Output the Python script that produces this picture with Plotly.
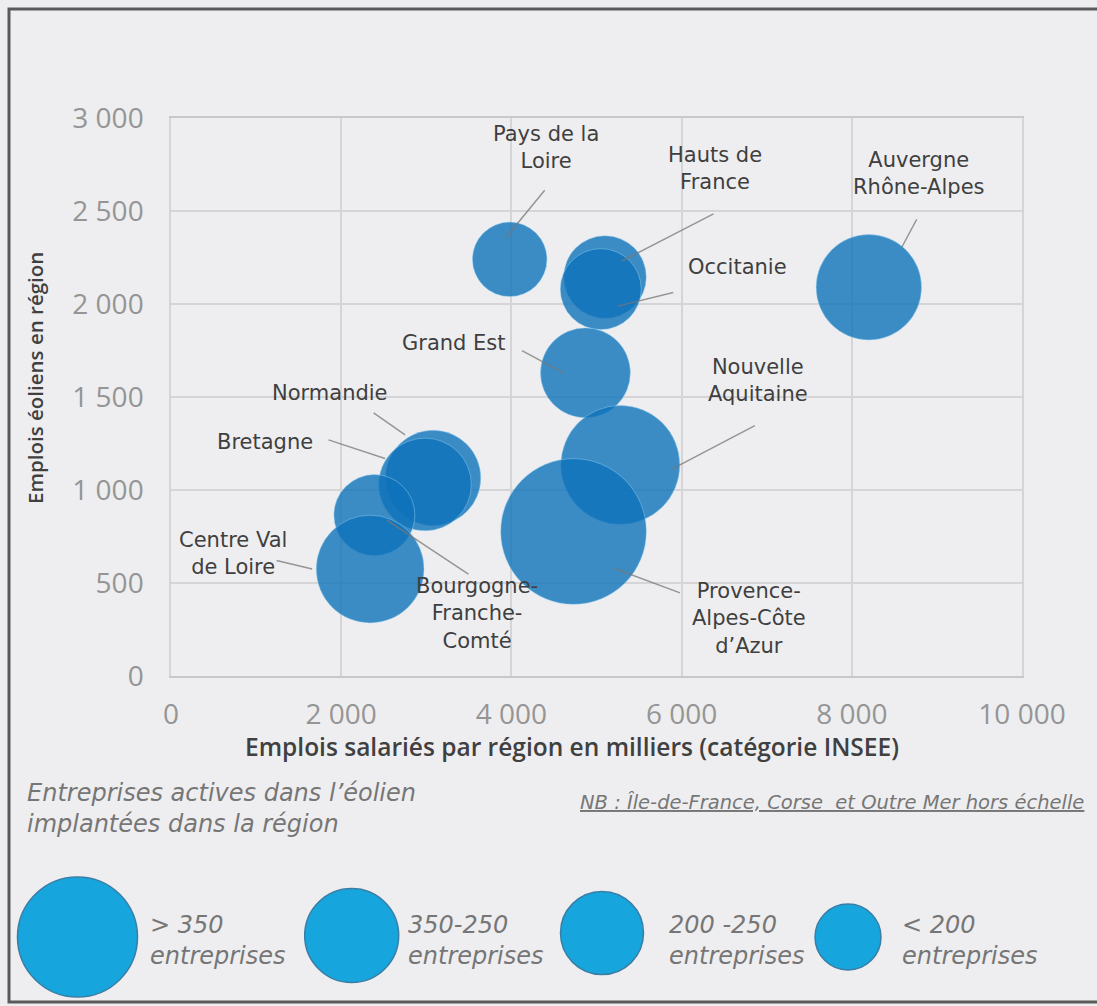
import plotly.graph_objects as go

# ---------------- data ----------------
regions = ["Pays de la Loire", "Hauts de France", "Occitanie", "Auvergne Rhône-Alpes",
           "Grand Est", "Nouvelle Aquitaine", "Provence-Alpes-Côte d'Azur", "Normandie",
           "Bretagne", "Bourgogne-Franche-Comté", "Centre Val de Loire"]
label_text = ["Pays de la<br>Loire", "Hauts de<br>France", "Occitanie", "Auvergne<br>Rhône-Alpes",
              "Grand Est", "Nouvelle<br>Aquitaine", "Provence-<br>Alpes-Côte<br>d’Azur", "Normandie",
              "Bretagne", "Bourgogne-<br>Franche-<br>Comté", "Centre Val<br>de Loire"]
emplois_salaries = [3980, 5100, 5050, 8200, 4870, 5280, 4730, 3080, 2985, 2390, 2340]
emplois_eoliens = [2240, 2145, 2080, 2090, 1630, 1135, 777, 1065, 1030, 865, 575]
entreprises = [110, 135, 130, 220, 160, 280, 420, 180, 170, 130, 230]

x_ticks = [0, 2000, 4000, 6000, 8000, 10000]
y_ticks = [0, 500, 1000, 1500, 2000, 2500, 3000]

legend_labels = ["&gt; 350<br>entreprises", "350-250<br>entreprises",
                 "200 -250<br>entreprises", "&lt; 200<br>entreprises"]

# ---------------- layout helpers ----------------
W, H = 1097, 1006
L, R, T, B = 171, 1022, 118, 676          # plot area in pixels
def px(x):
    return (x - L) / (R - L)
def py(y):
    return (B - y) / (B - T)

BG = "#eeeef0"
GRID = "#d5d5d7"
LABEL = "#3f3f3f"
TICK = "#959595"
ITAL = "#767676"
LBL_FONT = "DejaVu Sans"

# label layout: text offset, leader start, leader end (pixels from bubble centre)
label_layout = [
    ((36.5, -112), (36.5, -71), (-4.5, -21)),
    ((110, -109), (110, -64), (17, -16)),
    ((137, -22), (74, 3), (17, 17)),
    ((50, -114), (49, -70), (33, -40)),
    ((-131, -30), (-65, -23), (-22, 0)),
    ((138, -84), (136, -40), (52, 4)),
    ((175, 87), (108, 62), (41, 37)),
    ((-103, -85), (-61, -66), (-28, -43)),
    ((-160, -42), (-98, -45), (-40, -26)),
    ((102.5, 98), (95.5, 60), (12.5, 5)),
    ((-137, -16), (-95, -9), (-58, 0)),
]

max_diam = 145.6
sizeref = 2.0 * max(entreprises) / max_diam ** 2

fig = go.Figure()
fig.add_trace(go.Scatter(
    x=emplois_salaries, y=emplois_eoliens, mode="markers",
    text=regions, hoverinfo="text",
    marker=dict(size=entreprises, sizemode="area", sizeref=sizeref, opacity=1,
                color="rgba(14,114,186,0.80)",
                line=dict(color="rgba(150,210,240,0.45)", width=1)),
    showlegend=False,
))

annotations = []
for i, (txt, lay) in enumerate(zip(label_text, label_layout)):
    (tx, ty), (sx, sy), (ex, ey) = lay
    cx, cy = emplois_salaries[i], emplois_eoliens[i]
    # leader line
    annotations.append(dict(
        x=cx, y=cy, xref="x", yref="y", text=" ", font=dict(size=1),
        showarrow=True, arrowhead=0, arrowwidth=1.5, arrowcolor="rgba(120,120,120,0.75)",
        xshift=ex, yshift=-ey, ax=sx - ex, ay=sy - ey, axref="pixel", ayref="pixel",
        standoff=0, startstandoff=0,
    ))
    # label text
    annotations.append(dict(
        x=cx, y=cy, xref="x", yref="y", text=txt, showarrow=False,
        xshift=tx, yshift=-ty, xanchor="center", yanchor="middle", align="center",
        font=dict(family=LBL_FONT, size=21, color=LABEL),
    ))

# axis titles
annotations.append(dict(
    x=px(572), y=py(746), xref="paper", yref="paper", showarrow=False,
    text="Emplois salariés par région en milliers (catégorie INSEE)",
    xanchor="center", yanchor="middle",
    font=dict(family="Open Sans", size=24.5, color="#404040", weight=600),
))
annotations.append(dict(
    x=px(35), y=py(378), xref="paper", yref="paper", showarrow=False,
    text="Emplois éoliens en région", textangle=-90,
    xanchor="center", yanchor="middle",
    font=dict(family="Open Sans", size=20.5, color="#404040", weight=600),
))
# legend texts
annotations.append(dict(
    x=px(25), y=py(808), xref="paper", yref="paper", showarrow=False,
    text="<i>Entreprises actives dans l’éolien<br>implantées dans la région</i>",
    xanchor="left", yanchor="middle", align="left",
    font=dict(family=LBL_FONT, size=24, color=ITAL),
))
annotations.append(dict(
    x=px(578), y=py(802), xref="paper", yref="paper", showarrow=False,
    text="<i><u>NB : Île-de-France, Corse\u00a0 et Outre Mer hors échelle</u></i>",
    xanchor="left", yanchor="middle", align="left",
    font=dict(family=LBL_FONT, size=19.5, color=ITAL),
))

legend_circles = [(77.5, 937, 60), (351.7, 935.5, 47), (602, 933, 41.5), (848, 937, 33)]
legend_text_x = [148, 406, 667, 900]
shapes = []
for (cxp, cyp, r), lt, lx in zip(legend_circles, legend_labels, legend_text_x):
    shapes.append(dict(
        type="circle", xref="paper", yref="paper", xsizemode="pixel", ysizemode="pixel",
        xanchor=px(cxp), yanchor=py(cyp), x0=-r, x1=r, y0=-r, y1=r,
        fillcolor="#16a5dc", line=dict(color="#3a7ea6", width=1.5), layer="above",
    ))
    annotations.append(dict(
        x=px(lx), y=py(940), xref="paper", yref="paper", showarrow=False,
        text="<i>" + lt + "</i>", xanchor="left", yanchor="middle", align="left",
        font=dict(family=LBL_FONT, size=24, color=ITAL),
    ))

# outer frame
shapes.append(dict(
    type="rect", xref="paper", yref="paper",
    x0=px(9), x1=px(1104), y0=py(1002), y1=py(9),
    line=dict(color="#5a5a5a", width=3), fillcolor="rgba(0,0,0,0)", layer="above",
))

fig.update_layout(
    width=W, height=H, autosize=False,
    margin=dict(l=L, r=W - R, t=T, b=H - B),
    paper_bgcolor=BG, plot_bgcolor=BG,
    separators=", ",
    annotations=annotations, shapes=shapes,
    font=dict(family="Open Sans"),
)
fig.update_xaxes(
    range=[0, 10000], tickvals=x_ticks, tickformat=",d",
    showgrid=True, gridcolor=GRID, gridwidth=1.5, zeroline=False,
    showline=True, linecolor="#c8c8ca", linewidth=1.5, mirror=True,
    ticks="", ticklabelstandoff=13,
    tickfont=dict(family="Open Sans", size=28, color=TICK),
)
fig.update_yaxes(
    range=[0, 3000], tickvals=y_ticks, tickformat=",d",
    showgrid=True, gridcolor=GRID, gridwidth=1.5, zeroline=False,
    showline=True, linecolor=GRID, linewidth=1.5, mirror=True,
    ticks="", ticklabelstandoff=20,
    tickfont=dict(family="Open Sans", size=28, color=TICK),
)

fig.write_html(
    "out.html",
    config={"displayModeBar": False},
    post_script="document.body.style.margin='0';document.body.style.overflow='hidden';"
                "document.body.style.background='#eeeef0';",
)
